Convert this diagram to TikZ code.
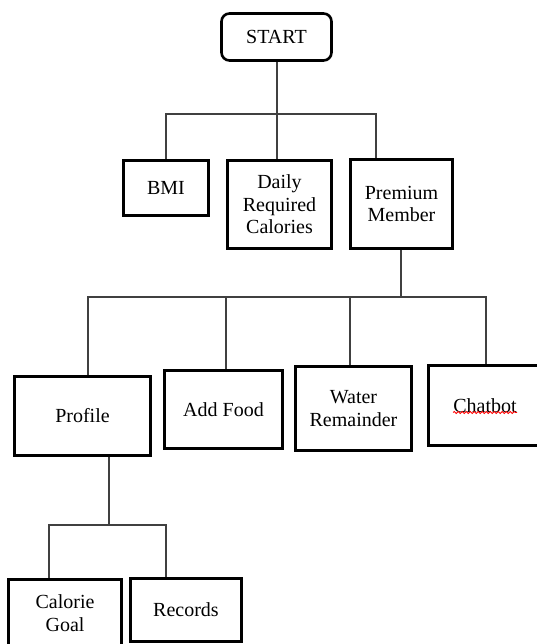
\documentclass[tikz,border=0pt]{standalone}
\usepackage{fontspec}
\setmainfont{Liberation Serif}
\usetikzlibrary{decorations.pathmorphing}

\begin{document}
\begin{tikzpicture}[x=1pt, y=-1pt,
    box/.style={draw, line width=2.6pt, inner sep=0pt, align=center,
        font=\fontsize{20}{22.5}\selectfont},
    link/.style={draw=black!75, line width=1.2pt},
    spell/.style={draw=red, line width=0.8pt, decorate,
        decoration={snake, amplitude=1pt, segment length=4pt}}]
    \useasboundingbox (0,0) rectangle (537,644);

    \node[box, rounded corners=8pt, minimum width=110pt, minimum height=47pt] (start) at (276.5,37) {START};

    \node[box, minimum width=85pt, minimum height=55pt] (bmi) at (166,188) {BMI};
    \node[box, minimum width=104pt, minimum height=88pt] (daily) at (279.5,204.5) {Daily\\Required\\Calories};
    \node[box, minimum width=102pt, minimum height=89pt] (pm) at (401.5,204) {Premium\\Member};

    \node[box, minimum width=136pt, minimum height=79pt] (profile) at (82.5,416) {Profile};
    \node[box, minimum width=118pt, minimum height=78pt] (food) at (223.5,409.5) {Add Food};
    \node[box, minimum width=116pt, minimum height=84pt] (water) at (353.5,408.5) {Water\\Remainder};
    \node[box, minimum width=113pt, minimum height=80pt] (chat) at (485,405.5) {Chatbot};

    \node[box, minimum width=113pt, minimum height=67pt] (goal) at (65,613) {Calorie\\Goal};
    \node[box, minimum width=111pt, minimum height=63pt] (records) at (186,610) {Records};

    \coordinate (top bus) at (277,114);
    \coordinate (mid bus) at (401,297);
    \coordinate (low bus) at (109,525);

    \draw[link] (start.south -| top bus) -- (top bus);
    \draw[link] (bmi.north) |- (top bus) -| ([xshift=-25.5]pm.north);
    \draw[link] (top bus) -- (daily.north -| top bus);

    \draw[link] (pm.south -| mid bus) -- (mid bus);
    \draw[link] ([xshift=5.5]profile.north) |- (mid bus) -| ([xshift=1]chat.north);
    \foreach \n/\s in {food/2.5, water/-3.5}
        \draw[link] ([xshift=\s]\n.north) -- ([xshift=\s]\n.north |- mid bus);

    \draw[link] ([xshift=26.5]profile.south) -- (low bus);
    \draw[link] ([xshift=-16]goal.north) |- (low bus) -| ([xshift=-20]records.north);

    \draw[spell] ([xshift=-32, yshift=-7]chat.center) -- ([xshift=32, yshift=-7]chat.center);
\end{tikzpicture}
\end{document}
